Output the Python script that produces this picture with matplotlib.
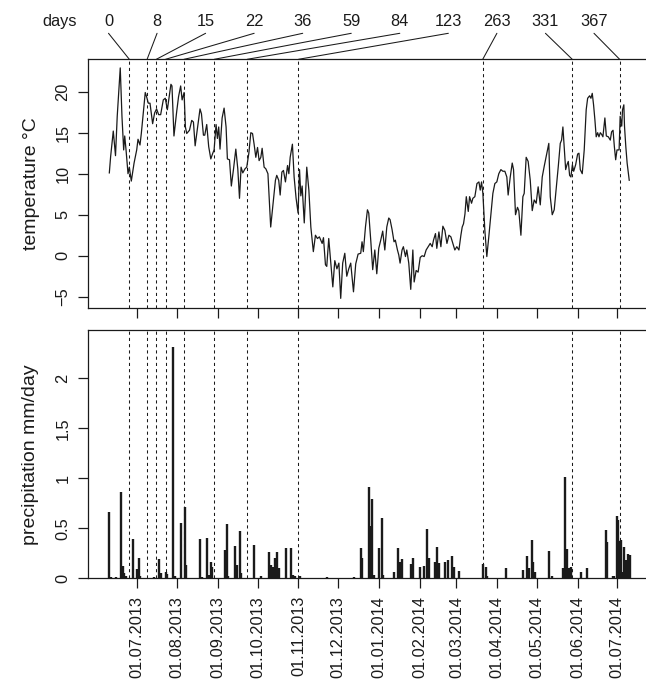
import matplotlib
matplotlib.use('Agg')
import matplotlib.pyplot as plt
import matplotlib.transforms as mtransforms
from matplotlib.patches import ConnectionPatch
import pandas as pd

plt.rcParams['font.family'] = ['Liberation Sans', 'DejaVu Sans']

# ---------------- data (x = days since 01.07.2013) ----------------
origin = pd.Timestamp('2013-07-01')

temp_day = [-20.7, -19.7, -17.7, -16.0, -14.7, -12.4, -11.1, -9.8, -9.0, -8.0, -6.5, -5.5, -4.0, -1.9, 0.1,
            1.1, 2.6, 3.6, 6.6, 7.6, 8.9, 10.2, 12.2, 13.7, 15.2, 16.8, 18.3, 20.3, 21.8, 23.4, 26.1,
            26.9, 28.4, 30.5, 31.9, 33.5, 34.6, 36.1, 37.1, 38.1, 40.2, 41.9, 43.2, 44.5, 46.2, 48.2,
            49.3, 50.8, 51.8, 53.3, 54.8, 56.4, 57.9, 58.9, 60.4, 61.4, 62.4, 63.4, 65.0, 66.5, 68.0,
            69.0, 70.6, 72.0, 73.6, 75.4, 76.9, 78.2, 79.4, 80.7, 82.4, 83.7, 85.3, 86.8, 88.1, 89.3,
            90.6, 91.9, 93.1, 94.4, 95.4, 96.9, 98.2, 99.8, 101.9, 104.0, 105.5, 106.5, 108.0, 109.1,
            110.4, 111.6, 113.1, 114.7, 115.7, 116.7, 118.4, 119.7, 121.2, 122.7, 123.8, 124.8, 125.8,
            127.4, 129.3, 130.9, 132.4, 134.3, 135.9, 137.4, 138.9, 141.0, 142.0, 143.5, 144.5, 146.0,
            147.6, 149.1, 150.6, 152.2, 153.7, 155.1, 156.6, 158.2, 159.7, 161.2, 162.7, 164.8, 166.5,
            168.3, 170.3, 171.3, 172.3, 173.9, 175.4, 176.4, 178.0, 179.4, 181.0, 182.5, 184.0, 185.5,
            187.0, 188.6, 190.1, 191.6, 192.6, 194.1, 195.6, 196.6, 198.2, 199.2, 200.2, 201.7, 202.7,
            204.3, 205.3, 206.8, 208.3, 209.9, 210.9, 212.4, 213.9, 215.5, 217.0, 218.5, 220.0, 221.6,
            223.1, 224.6, 225.6, 227.1, 228.1, 229.7, 231.2, 232.7, 234.2, 235.8, 237.3, 238.8, 240.3,
            241.8, 243.3, 244.9, 246.4, 247.4, 248.4, 249.5, 250.5, 252.0, 253.0, 254.5, 255.5, 257.0,
            258.6, 260.1, 261.1, 262.1, 263.1, 264.6, 266.1, 267.6, 269.2, 270.7, 272.2, 273.7, 275.2,
            276.8, 278.3, 279.8, 281.3, 282.3, 283.9, 285.4, 286.4, 287.9, 289.4, 290.4, 292.0, 293.5,
            294.5, 296.0, 297.5, 299.1, 300.6, 302.1, 303.6, 305.1, 306.7, 308.2, 309.7, 311.2, 313.2,
            314.3, 315.8, 317.3, 318.8, 320.4, 321.9, 322.9, 323.9, 324.9, 326.0, 327.0, 328.0, 329.0,
            330.0, 331.1, 332.1, 333.6, 335.1, 336.1, 337.1, 338.6, 340.1, 341.6, 342.7, 344.2, 345.2,
            346.2, 347.2, 348.2, 349.2, 350.3, 351.3, 352.3, 353.3, 354.3, 355.8, 356.9, 358.4, 359.9,
            360.9, 362.0, 363.0, 364.0, 365.0, 366.6, 367.4, 368.6, 369.2, 370.2, 370.7, 371.7, 372.7,
            374.3]
temp_val = [10.1, 12.1, 15.2, 12.2, 17.0, 22.9, 17.0, 12.9, 14.6, 12.9, 10.0, 10.8, 9.1, 11.3, 12.9,
            14.2, 13.5, 14.9, 19.9, 19.4, 18.6, 18.6, 16.1, 17.4, 17.9, 17.2, 17.2, 19.0, 19.2, 17.8, 20.9,
            20.7, 14.6, 17.6, 19.4, 20.7, 19.0, 19.9, 15.7, 14.9, 15.3, 16.5, 16.3, 13.4, 15.5, 17.9,
            17.3, 14.7, 14.7, 16.0, 13.3, 11.8, 12.5, 12.9, 16.0, 14.3, 15.7, 13.0, 16.8, 18.0, 15.7,
            11.8, 11.7, 8.5, 10.5, 13.0, 10.6, 7.0, 10.8, 10.1, 10.6, 10.8, 12.5, 15.0, 14.9, 13.6,
            12.0, 13.2, 11.6, 12.0, 13.1, 10.8, 10.6, 10.0, 3.5, 6.8, 9.2, 9.8, 9.2, 7.4,
            10.2, 10.4, 9.0, 11.0, 10.0, 12.0, 13.6, 9.6, 7.0, 5.2, 10.5, 7.3, 8.5,
            4.0, 10.8, 8.0, 3.5, 0.5, 2.5, 2.1, 2.3, 1.5, 2.2, -1.1, -1.3, 2.1,
            -0.9, -3.8, -0.6, -1.6, -0.9, -5.2, -0.9, 0.3, -2.5, -1.6, -0.9, -4.4, -1.0,
            0.2, 0.3, 1.7, 0.5, 3.5, 5.6, 5.2, 1.7, -1.7, 0.7, -2.2, 0.9, 1.9,
            3.0, 0.7, 3.5, 4.6, 4.4, 3.2, 1.7, 1.9, 0.7, 0.1, -0.9, 0.7, 1.1,
            -0.1, 0.7, -0.9, -4.1, 0.7, -3.2, -1.8, -2.0, -0.2, 0.0, -0.1, 0.7, 1.1,
            1.5, 1.1, 1.9, 2.7, 0.9, 2.9, 1.1, 3.6, 3.1, 1.5, 2.5, 2.3, 1.5,
            0.7, 1.1, 0.7, 2.5, 3.5, 3.9, 5.1, 7.2, 5.4, 7.2, 6.4, 7.0, 7.2,
            8.8, 9.0, 8.0, 9.0, 7.6, 3.1, -0.1, 2.3, 5.1, 7.6, 8.8, 9.0, 10.0,
            10.5, 10.3, 10.3, 9.6, 7.4, 9.6, 11.3, 10.5, 5.0, 5.9, 5.5, 2.5, 7.2,
            7.6, 12.0, 11.5, 9.2, 5.5, 6.8, 6.4, 8.4, 6.2, 9.6, 10.9, 12.1, 13.7,
            7.2, 5.0, 5.6, 8.1, 10.9, 13.7, 14.1, 15.7, 13.3, 10.5, 11.1, 11.5, 9.8,
            9.6, 11.1, 10.3, 11.1, 12.4, 12.5, 10.5, 10.0, 12.9, 17.8, 19.2, 19.5, 19.2,
            19.8, 18.4, 16.6, 14.5, 15.0, 14.5, 15.0, 14.8, 14.5, 16.8, 14.6, 14.5, 14.1,
            15.1, 15.3, 13.3, 11.7, 12.9, 12.9, 17.0, 15.8, 17.8, 18.4, 15.8, 13.3, 11.3,
            9.2]

prec_day = [-21.2, -19.5, -16.0, -11.6, -10.4, -9.4, -8.4, -2.5, 0.0, 1.6, 2.6, 13.3, 17.3, 18.3,
            22.2, 23.2, 27.9, 28.9, 33.5, 36.5, 37.5, 48.2, 49.7, 53.3, 54.8, 56.3, 57.3, 67.0, 68.5,
            69.5, 75.0, 76.6, 78.6, 79.6, 89.5, 94.5, 100.4, 102.4, 103.4, 105.2, 106.5, 108.0, 113.6,
            117.6, 119.1, 120.1, 124.0, 144.5, 165.2, 170.6, 171.6, 176.4, 177.7, 179.2, 180.5, 184.5,
            186.5, 187.6, 195.6, 198.7, 200.0, 201.5, 208.3, 209.9, 215.4, 218.5, 220.5, 221.8, 226.6,
            228.4, 229.6, 234.4, 236.5, 239.5, 240.8, 244.8, 263.0, 265.1, 266.6, 280.3, 293.5, 297.0,
            298.5, 300.3, 301.5, 302.6, 313.7, 315.7, 323.9, 325.4, 327.0, 328.3, 330.1, 337.6, 342.4,
            356.3, 357.6, 362.0, 363.0, 365.0, 366.0, 367.0, 368.0, 369.1, 370.6, 372.1, 373.6, 374.6]
prec_val = [0.66, 0.01, 0.01, 0.86, 0.12, 0.05, 0.02, 0.39, 0.09, 0.20, 0.02, 0.01, 0.19, 0.05,
            0.06, 0.04, 2.31, 0.02, 0.55, 0.71, 0.13, 0.39, 0.01, 0.40, 0.03, 0.16, 0.11, 0.28, 0.54,
            0.02, 0.32, 0.13, 0.47, 0.05, 0.33, 0.02, 0.26, 0.13, 0.11, 0.20, 0.26, 0.10, 0.30,
            0.30, 0.03, 0.02, 0.02, 0.01, 0.01, 0.30, 0.20, 0.91, 0.52, 0.79, 0.03, 0.30,
            0.60, 0.03, 0.06, 0.30, 0.16, 0.19, 0.14, 0.20, 0.11, 0.12, 0.49, 0.20, 0.16,
            0.31, 0.15, 0.16, 0.18, 0.22, 0.11, 0.07, 0.14, 0.11, 0.02, 0.10, 0.08, 0.22,
            0.10, 0.38, 0.16, 0.06, 0.27, 0.02, 0.10, 1.01, 0.29, 0.10, 0.11, 0.06, 0.10,
            0.48, 0.36, 0.02, 0.02, 0.62, 0.58, 0.37, 0.38, 0.06, 0.31, 0.18, 0.24, 0.23]

sample_line_day = [-5.5, 8, 15, 22, 36, 59, 84, 123, 263, 331, 367]
sample_labels = ['0', '8', '15', '22', '36', '59', '84', '123', '263', '331', '367']

tick_dates = pd.date_range('2013-07-01', '2014-07-01', freq='MS')
tick_pos = list((tick_dates - origin).days)
tick_labels = [d.strftime('%d.%m.%Y') for d in tick_dates]

temp_ticks = [-5, 0, 5, 10, 15, 20]
temp_tick_labels = ['\u22125', '0', '5', '10', '15', '20']
prec_ticks = [0, 0.5, 1, 1.5, 2]
prec_tick_labels = ['0', '0.5', '1', '1.5', '2']

# ---------------- layout ----------------
W, H = 646, 685
fig = plt.figure(figsize=(W / 100, H / 100), dpi=100)
left = 88 / W
width = 561.9 / W
ax1 = fig.add_axes([left, (H - 308.3) / H, width, 249.0 / H])
ax2 = fig.add_axes([left, (H - 578.3) / H, width, 248.3 / H])

ink = '#1a1a1a'
fs = 11.8
for ax in (ax1, ax2):
    ax.set_xlim(-36.9, 390.0)
    for s in ax.spines.values():
        s.set_linewidth(0.9)
        s.set_color(ink)
    ax.tick_params(direction='out', length=7.2, width=0.9, colors=ink, labelsize=fs, pad=5.5)
    ax.set_xticks(tick_pos)
    for d in sample_line_day:
        ax.axvline(d, color=ink, lw=0.75, ls=(0, (3, 3)), zorder=1)

ax1.set_ylim(-6.41, 23.95)
ax1.plot(temp_day, temp_val, color=ink, lw=0.9, zorder=3)
ax1.set_yticks(temp_ticks)
ax1.set_yticklabels(temp_tick_labels, rotation=90, va='center')
ax1.tick_params(axis='x', labelbottom=False)

ax2.set_ylim(0, 2.483)
ax2.vlines(prec_day, 0, prec_val, color=ink, lw=1.7, zorder=3)
ax2.set_yticks(prec_ticks)
ax2.set_yticklabels(prec_tick_labels, rotation=90, va='center')
ax2.set_xticklabels(tick_labels, rotation=90, ha='center', va='top')

# axis titles
fig.text(31 / W, 1 - 183.8 / H, 'temperature \u00b0C', rotation=90, ha='center', va='center',
         fontsize=14, color=ink)
fig.text(31 / W, 1 - 454.2 / H, 'precipitation mm/day', rotation=90, ha='center', va='center',
         fontsize=14, color=ink)

# sampling-day labels on top with connectors
blend = mtransforms.blended_transform_factory(ax1.transAxes, fig.transFigure)
lab_y = 1 - 26 / H
con_y = 1 - 33.3 / H
x0 = 0.0365
dx = 0.0864
fig.text(x0 - dx, lab_y, 'days', transform=blend, ha='center', va='baseline', fontsize=fs, color=ink)
for i, (d, lab) in enumerate(zip(sample_line_day, sample_labels)):
    xa = x0 + i * dx
    fig.text(xa, lab_y, lab, transform=blend, ha='center', va='baseline', fontsize=fs, color=ink)
    cp = ConnectionPatch(xyA=(xa, con_y), coordsA=blend, xyB=(d, 1), coordsB=ax1.get_xaxis_transform(),
                         color=ink, lw=0.75)
    fig.add_artist(cp)

fig.savefig('out.png', dpi=100)
